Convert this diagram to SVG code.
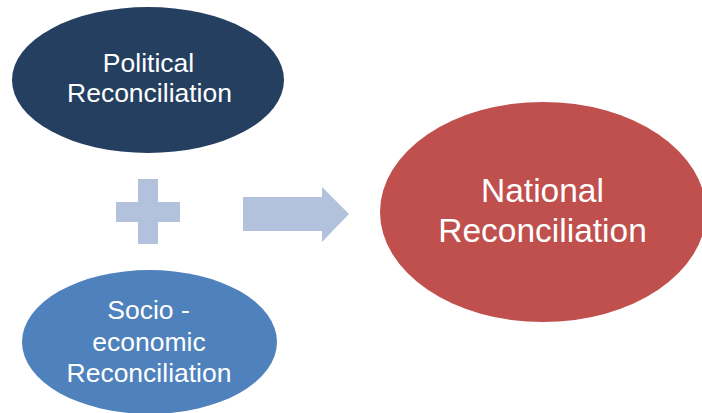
<svg xmlns="http://www.w3.org/2000/svg" width="702" height="413" viewBox="0 0 702 413">
<style>
.t{font-family:"Liberation Sans",Arial,sans-serif;fill:#ffffff;text-anchor:middle}
.s{font-size:26.5px}
.l{font-size:33.5px}
.sym{fill:#B3C2DC}
</style>
<rect width="702" height="413" fill="#ffffff"/>
<g id="political">
<ellipse cx="148" cy="80" rx="136" ry="73" fill="#243F60"/>
<text class="t s" x="148.5" y="72">Political</text>
<text class="t s" x="149.5" y="102">Reconciliation</text>
</g>
<g id="socio">
<ellipse cx="149.5" cy="342" rx="127.5" ry="72" fill="#4F81BD"/>
<text class="t s" x="148.5" y="319">Socio -</text>
<text class="t s" x="149" y="351">economic</text>
<text class="t s" x="149" y="382">Reconciliation</text>
</g>
<g id="national">
<ellipse cx="543" cy="212" rx="163" ry="110" fill="#C0504D"/>
<text class="t l" x="542.5" y="202">National</text>
<text class="t l" x="542.5" y="242">Reconciliation</text>
</g>
<g id="connectors">
<path class="sym" d="M138,179 H158 V202 H180 V222 H158 V244 H138 V222 H116 V202 H138 Z"/>
<path class="sym" d="M243,197 H322 V187 L349,214 L322,242 V231 H243 Z"/>
</g>
</svg>
